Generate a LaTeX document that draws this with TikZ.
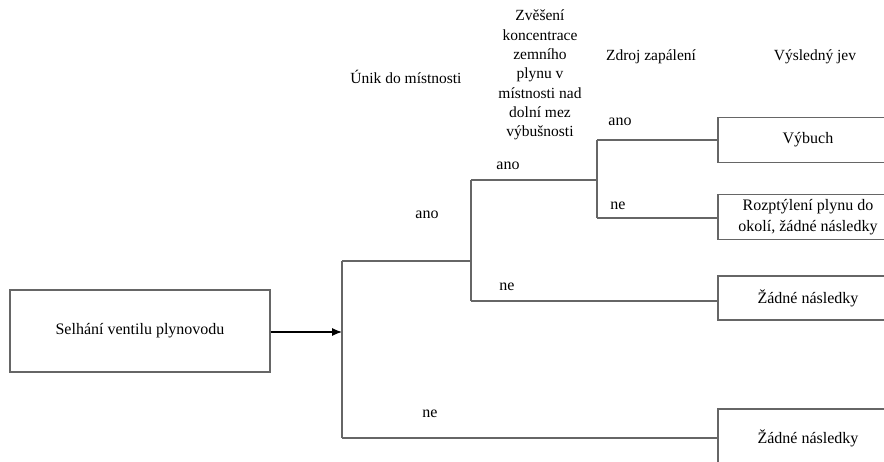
\documentclass[tikz,border=0pt]{standalone}
\usepackage{fontspec}
\setmainfont{Liberation Serif}
\usetikzlibrary{arrows.meta}

\begin{document}
\begin{tikzpicture}[x=1pt,y=-1pt,
  box/.style={draw=black!60,line width=1.1pt,minimum width=180pt,minimum height=45pt,
    inner sep=2pt,align=center,font=\fontsize{16}{21}\selectfont},
  branch/.style={draw=black!60,line width=1.1pt},
  lbl/.style={font=\fontsize{16}{18}\selectfont},
  head/.style={font=\fontsize{15.5}{19.3}\selectfont,align=center}]
  \useasboundingbox (0,0) rectangle (884,461);
  % column headings
  \node[head] (hleak) at (406,77) {Únik do místnosti};
  \node[head] (hconc) at (540,75) {Zvěšení\\koncentrace\\zemního\\plynu v\\místnosti nad\\dolní mez\\výbušnosti};
  \node[head] (hign) at (651,57) {Zdroj zapálení};
  \node[head] (hres) at (815,57) {Výsledný jev};
  % initiating event and outcomes
  \node[box,minimum width=260pt,minimum height=82pt] (fail) at (140,331) {Selhání ventilu plynovodu};
  \node[box] (boom) at (808,140) {Výbuch};
  \node[box] (disp) at (808,217) {Rozptýlení plynu do\\okolí, žádné následky};
  \node[box,minimum height=44pt] (none2) at (808,298) {Žádné následky};
  \node[box,minimum height=58pt] (none1) at (808,438) {Žádné následky};
  % branch points
  \coordinate (s1) at (342,332);
  \coordinate (s1u) at (342,261);
  \coordinate (s1d) at (342,438);
  \coordinate (s2u) at (471,180);
  \coordinate (s2d) at (471,301);
  \coordinate (s3u) at (597,140);
  \coordinate (s3d) at (597,218);
  \draw[-{Latex[length=10pt,width=8pt]},line width=1.1pt] (fail.east |- s1) -- (s1);
  \draw[branch] (s1u) -- (s1d);
  \draw[branch] (s1u) -- (s1u -| s2u);
  \draw[branch] (s1d) -- (none1.west |- s1d);
  \draw[branch] (s2u) -- (s2d);
  \draw[branch] (s2u) -- (s2u -| s3u);
  \draw[branch] (s2d) -- (none2.west |- s2d);
  \draw[branch] (s3u) -- (s3d);
  \draw[branch] (s3u) -- (boom.west |- s3u);
  \draw[branch] (s3d) -- (disp.west |- s3d);
  % yes / no labels
  \node[lbl] (y1) at (427,215) {ano};
  \node[lbl] (n1) at (430,414) {ne};
  \node[lbl] (y2) at (508,166) {ano};
  \node[lbl] (n2) at (507,287) {ne};
  \node[lbl] (y3) at (620,122) {ano};
  \node[lbl] (n3) at (618,206) {ne};
\end{tikzpicture}
\end{document}
